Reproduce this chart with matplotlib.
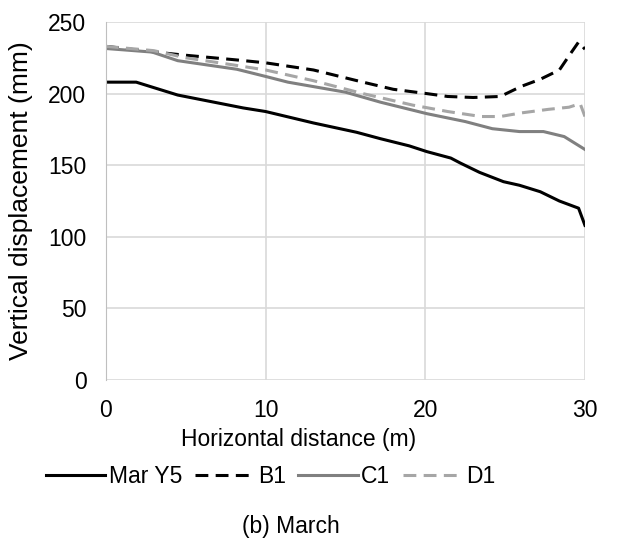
import matplotlib.pyplot as plt
import numpy as np

plt.rcParams['font.family'] = ['Liberation Sans', 'DejaVu Sans']

x_mar = [0, 1.9, 4.5, 8.6, 10, 13, 15.7, 17.2, 19, 20.1, 21.6, 22.2, 23.4, 24.9, 25.9, 27.2, 28.4, 29.6, 30]
y_mar = [208, 208, 199, 190, 187.5, 179.5, 173, 168.5, 163.5, 159.5, 155, 151.5, 145, 138.5, 136, 131.5, 125, 120, 108]

x_b1 = [0, 3.1, 4.8, 8.2, 10, 13, 16.1, 18, 20.1, 21.4, 23, 24.7, 26, 27.2, 28.4, 29.1, 29.6, 30]
y_b1 = [233, 229, 227, 223.5, 221.5, 216.5, 208, 203, 200, 198, 197.3, 198, 205, 210, 216.5, 228, 236, 231]

x_c1 = [0, 2.9, 4.5, 8.2, 10, 11.4, 15, 17.2, 20.1, 22.5, 24.2, 25.9, 27.4, 28.7, 30]
y_c1 = [231.5, 229, 223, 217, 212, 208, 201, 194, 186, 180.5, 175.5, 173.5, 173.5, 170, 161]

x_d1 = [0, 3, 5, 8, 10, 13, 16.1, 19.2, 21.4, 23.5, 24.7, 26, 27.7, 29, 29.7, 30]
y_d1 = [233, 230, 225, 220, 216.5, 209, 200, 192, 187.5, 184, 184, 186.5, 189, 190.5, 193, 184]

fs = 16.5

fig = plt.figure(figsize=(6.19, 5.5), dpi=100)
ax = fig.add_axes([0.171, 0.309, 0.774, 0.651])

dash = (0, (4.2, 2.4))
ax.plot(x_mar, y_mar, color='black', lw=2.2, label='Mar Y5')
ax.plot(x_b1, y_b1, color='black', lw=2.2, ls=dash, label='B1')
ax.plot(x_c1, y_c1, color='#808080', lw=2.2, label='C1')
ax.plot(x_d1, y_d1, color='#a6a6a6', lw=2.2, ls=dash, label='D1')

ax.set_xlim(0, 30)
ax.set_ylim(0, 250)
ax.set_xticks([0, 10, 20, 30])
ax.set_yticks(np.arange(0, 251, 50))
ax.grid(color='#d9d9d9', lw=1.2)
ax.set_axisbelow(True)
for s in ['top', 'right', 'bottom']:
    ax.spines[s].set_visible(False)
ax.spines['left'].set_color('#bfbfbf')
ax.tick_params(length=0, labelsize=fs)
ax.tick_params(axis='y', pad=14)
ax.tick_params(axis='x', pad=14)

ax.set_xlabel('Horizontal distance (m)', fontsize=fs)
ax.xaxis.set_label_coords(0.403, -0.135)
ax.set_ylabel('Vertical displacement (mm)', fontsize=19)
ax.yaxis.set_label_coords(-0.152, 0.5)

fig.legend(loc='center', bbox_to_anchor=(0.437, 0.133), ncol=4, frameon=False,
           fontsize=fs, handlelength=2.6, handletextpad=0.15, columnspacing=0.55)
fig.text(0.47, 0.042, '(b) March', ha='center', va='center', fontsize=fs)

fig.savefig('out.png', dpi=100)
